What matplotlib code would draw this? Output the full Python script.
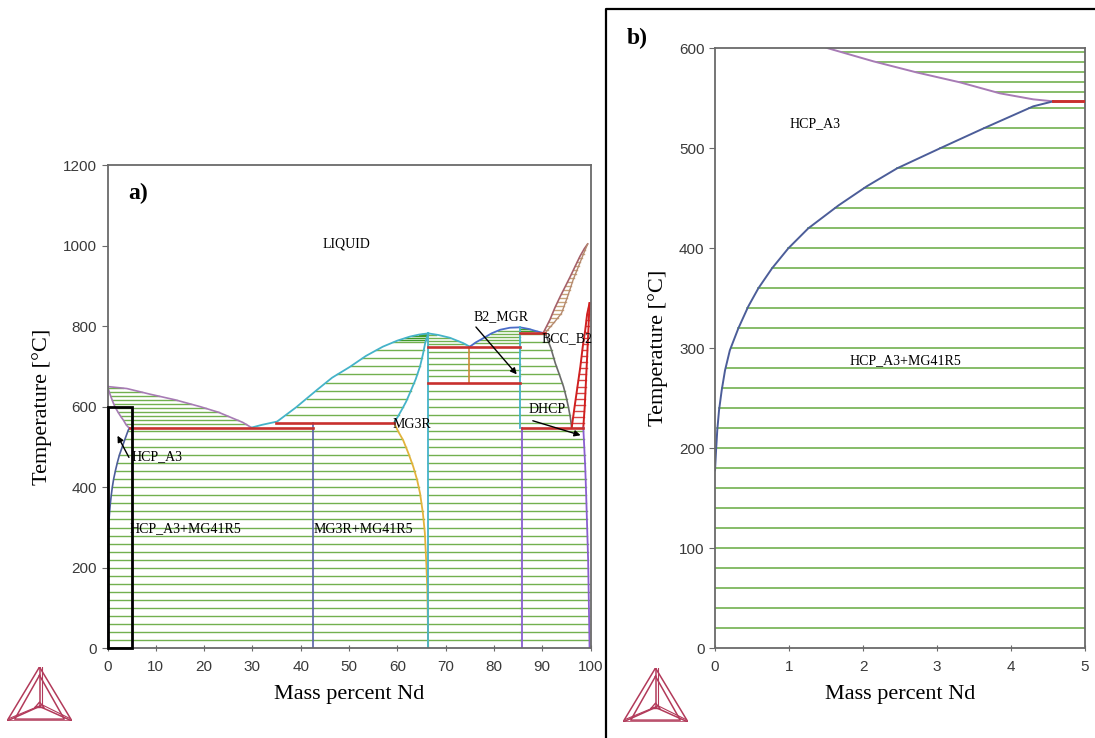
import numpy as np
import matplotlib.pyplot as plt
from matplotlib.lines import Line2D

# Mg-Nd phase boundaries, mass percent Nd vs temperature [C]
liq_mg_x = [0, 4, 8.8, 14, 19.2, 23, 26, 28, 29.8]
liq_mg_t = [650, 645, 631, 617, 600, 586, 571, 561, 548]
sol_hcp_x = [0, 0.6, 1.2, 1.53, 2.14, 2.72, 3.31, 3.85, 4.30, 4.57]
sol_hcp_t = [650, 628, 609, 600, 587, 576, 566, 555, 549, 547]
solv_hcp_x = [0, 0.014, 0.03, 0.054, 0.09, 0.135, 0.20, 0.315, 0.45, 0.585, 0.77,
              0.99, 1.26, 1.67, 2.05, 2.46, 3.04, 3.63, 4.30, 4.57]
solv_hcp_t = [178, 198, 218, 238, 258, 278, 298, 320, 342, 360, 380,
              400, 420, 443, 462, 480, 500, 520, 542, 547]
liq_mg3r_l_x = [29.8, 32, 35.1, 39, 43.4, 46.5, 50.2, 53.5, 57.0, 60.0, 62.6, 64.5, 66.4]
liq_mg3r_l_t = [548, 555, 563, 598, 642, 672, 699, 726, 749, 764, 774, 779, 782]
mg3r_up_x = [59.3, 60.1, 60.9, 61.8, 62.6, 63.8, 64.7, 65.3, 65.8, 66.4]
mg3r_up_t = [560, 575, 592, 612, 634, 668, 700, 730, 760, 782]
mg3r_lo_x = [59.3, 60.2, 61.2, 62.3, 63.3, 64.1, 64.7, 65.3, 65.7, 66.0, 66.2, 66.4]
mg3r_lo_t = [560, 538, 517, 484, 451, 418, 385, 335, 286, 210, 150, 0]
liq_mg3r_r_x = [66.4, 68.5, 70.9, 73.6, 75.0]
liq_mg3r_r_t = [782, 778, 771, 758, 749]
liq_b2_l_x = [75.0, 76.3, 77.8, 79.5, 81.3, 83.3, 85.4]
liq_b2_l_t = [749, 760, 770, 782, 791, 796, 797]
liq_b2_r_x = [85.4, 87.2, 88.9, 90.2]
liq_b2_r_t = [797, 793, 787, 783]
liq_nd_x = [90.2, 91.6, 92.6, 93.7, 94.8, 95.8, 96.8, 97.8, 98.7, 99.4]
liq_nd_t = [783, 816, 845, 873, 899, 923, 948, 973, 992, 1004]
sol_bcc_x = [90.6, 92.4, 94.0, 95.3, 96.4, 97.5, 98.4, 99.4]
sol_bcc_t = [783, 808, 832, 875, 915, 948, 975, 1004]
bcc_b2_x = [90.6, 91.8, 92.7, 93.6, 94.4, 95.0, 95.4, 95.8, 96.1]
bcc_b2_t = [783, 745, 708, 678, 650, 622, 600, 575, 548]
bcc_dh_l_x = [96.1, 96.7, 97.3, 97.9, 98.4, 98.9, 99.3, 99.8]
bcc_dh_l_t = [548, 600, 650, 700, 750, 790, 830, 857]
bcc_dh_r_x = [98.5, 98.8, 99.0, 99.2, 99.4, 99.55, 99.7, 99.8]
bcc_dh_r_t = [548, 600, 650, 700, 750, 790, 830, 857]
dhcp_x = [98.5, 98.7, 98.9, 99.1, 99.3, 99.5, 99.6, 99.8]
dhcp_t = [548, 500, 450, 380, 300, 220, 150, 0]

# line compounds
x_mg41 = 42.5
x_mg3 = 66.4
x_mg2 = 74.8
x_b2 = 85.5

# invariant reactions: temperature, from, to
invariants = [(547, 4.57, 42.5), (560, 34.8, 59.3), (747, 66.4, 85.5),
              (660, 66.4, 85.5), (783, 85.5, 90.6), (548, 85.8, 98.5)]

green = '#72b04f'
dark_green = '#3f9a2a'


def x_at(t, xs, ts):
    xs = np.asarray(xs, float)
    ts = np.asarray(ts, float)
    o = np.argsort(ts)
    return np.interp(t, ts[o], xs[o])


# two-phase fields: tie-line levels, left boundary, right boundary, colour
fields = [
    (np.arange(556, 650, 10), (sol_hcp_x, sol_hcp_t), (liq_mg_x, liq_mg_t), green),
    (np.arange(20, 545, 20), (solv_hcp_x, solv_hcp_t), (x_mg41, None), green),
    (np.arange(20, 545, 20), (x_mg41, None), (mg3r_lo_x, mg3r_lo_t), green),
    (np.arange(580, 781, 20), (liq_mg3r_l_x, liq_mg3r_l_t), (mg3r_up_x, mg3r_up_t), green),
    ([765, 770, 775, 779], (liq_mg3r_l_x, liq_mg3r_l_t), (mg3r_up_x, mg3r_up_t), dark_green),
    (np.arange(755, 781, 8), (x_mg3, None), (liq_mg3r_r_x, liq_mg3r_r_t), green),
    (np.arange(675, 740, 15), (x_mg3, None), (x_mg2, None), green),
    (np.arange(675, 740, 15), (x_mg2, None), (x_b2, None), green),
    (np.arange(20, 645, 20), (x_mg3, None), (x_b2, None), green),
    (np.arange(757, 796, 8), (liq_b2_l_x, liq_b2_l_t), (x_b2, None), green),
    ([787, 792], (x_b2, None), (liq_b2_r_x, liq_b2_r_t), dark_green),
    (np.arange(560, 781, 20), (x_b2, None), (bcc_b2_x, bcc_b2_t), green),
    (np.arange(20, 545, 20), (x_b2, None), (dhcp_x, dhcp_t), green),
    (np.arange(790, 1001, 10), (liq_nd_x, liq_nd_t), (sol_bcc_x, sol_bcc_t), '#c8a47a'),
    (np.arange(560, 851, 15), (bcc_dh_l_x, bcc_dh_l_t), (bcc_dh_r_x, bcc_dh_r_t), '#d84545'),
]


def draw_diagram(ax, lw):
    for levels, lb, rb, c in fields:
        for t in levels:
            xl = x_at(t, *lb) if lb[1] is not None else lb[0]
            xr = x_at(t, *rb) if rb[1] is not None else rb[0]
            ax.plot([xl, xr], [t, t], color=c, lw=lw, zorder=1)
    # Mg-rich side
    ax.plot(liq_mg_x, liq_mg_t, color='#a77bb5', lw=lw + 0.2, zorder=2)
    ax.plot(sol_hcp_x, sol_hcp_t, color='#a77bb5', lw=lw + 0.2, zorder=2)
    ax.plot(solv_hcp_x, solv_hcp_t, color='#4c5d99', lw=lw + 0.2, zorder=2)
    # MG3R dome
    ax.plot(liq_mg3r_l_x, liq_mg3r_l_t, color='#45b3c9', lw=lw + 0.3, zorder=2)
    ax.plot(mg3r_up_x, mg3r_up_t, color='#45b3c9', lw=lw + 0.3, zorder=2)
    ax.plot(mg3r_lo_x, mg3r_lo_t, color='#e2b33c', lw=lw + 0.3, zorder=2)
    ax.plot(liq_mg3r_r_x, liq_mg3r_r_t, color='#45b3c9', lw=lw + 0.3, zorder=2)
    ax.plot([x_mg3, x_mg3], [0, 782], color='#45b3c9', lw=lw + 0.3, zorder=2)
    ax.plot([x_mg41, x_mg41], [0, 560], color='#5a62a8', lw=lw + 0.2, zorder=2)
    ax.plot([x_mg2, x_mg2], [660, 747], color='#d08a3a', lw=lw + 0.2, zorder=2)
    # B2 and Nd-rich side
    ax.plot(liq_b2_l_x + liq_b2_r_x, liq_b2_l_t + liq_b2_r_t, color='#4a6cc8', lw=lw + 0.3, zorder=2)
    ax.plot([x_b2, x_b2], [548, 797], color='#45b3c9', lw=lw + 0.3, zorder=2)
    ax.plot([x_b2 + 0.3, x_b2 + 0.3], [0, 548], color='#8a5fd0', lw=lw + 0.3, zorder=2)
    ax.plot(liq_nd_x, liq_nd_t, color='#a5606a', lw=lw + 0.2, zorder=2)
    ax.plot(sol_bcc_x, sol_bcc_t, color='#b58a70', lw=lw, zorder=2)
    ax.plot(bcc_b2_x, bcc_b2_t, color='#6b6b6b', lw=lw + 0.2, zorder=2)
    ax.plot(bcc_dh_l_x, bcc_dh_l_t, color='#d02020', lw=lw + 0.4, zorder=2)
    ax.plot(bcc_dh_r_x, bcc_dh_r_t, color='#d02020', lw=lw + 0.4, zorder=2)
    ax.plot(dhcp_x, dhcp_t, color='#8a5fd0', lw=lw + 0.3, zorder=2)
    for t, x0, x1 in invariants:
        ax.plot([x0, x1], [t, t], color='#c8302e', lw=lw + 0.9, zorder=3)


def style_axes(ax):
    for s in ax.spines.values():
        s.set_color('#6a6a6a')
        s.set_linewidth(1.3)
    ax.tick_params(axis='y', direction='out', length=4, color='#6a6a6a',
                   labelsize=11, labelcolor='#3a3a3a')
    ax.tick_params(axis='x', direction='inout', length=5, color='#6a6a6a',
                   labelsize=11, labelcolor='#3a3a3a', pad=6)
    for lab in ax.get_xticklabels() + ax.get_yticklabels():
        lab.set_family('Liberation Sans')


def draw_logo(fig, x0, y0, w, h):
    lax = fig.add_axes([x0 / 1095, 1 - (y0 + h) / 738, w / 1095, h / 738])
    lax.set_xlim(0, 1)
    lax.set_ylim(0, 1)
    lax.axis('off')
    c = '#b23a5a'
    top, bl, br, ctr = (0.5, 1.0), (0.0, 0.0), (1.0, 0.0), (0.5, 0.27)
    for k in (0.0, 0.07):
        tt = (0.5, 1.0 - 2.2 * k)
        l = (k * 1.7, k * 0.5)
        r = (1 - k * 1.7, k * 0.5)
        lax.plot([tt[0], l[0], r[0], tt[0]], [tt[1], l[1], r[1], tt[1]], color=c, lw=1.1)
    for v in (top, bl, br):
        lax.plot([ctr[0], v[0]], [ctr[1], v[1]], color=c, lw=1.1)
        lax.plot([ctr[0] + 0.04, v[0] + 0.04 * (1 if v != br else -1)],
                 [ctr[1] + 0.03, v[1] + 0.05], color=c, lw=0.8)
    lax.plot([0.43, 0.57, 0.5, 0.43], [0.25, 0.25, 0.35, 0.25], color=c, lw=1.0)


plt.rcParams['font.family'] = ['Liberation Serif', 'DejaVu Serif']

fig = plt.figure(figsize=(10.95, 7.38), dpi=100)

# panel a: full diagram
ax1 = fig.add_axes([0.0982, 0.1215, 0.4411, 0.6549])
draw_diagram(ax1, 1.0)
ax1.set_xlim(0, 100)
ax1.set_ylim(0, 1200)
ax1.set_xticks(range(0, 101, 10))
ax1.set_yticks(range(0, 1201, 200))
style_axes(ax1)
ax1.set_xlabel('Mass percent Nd', fontsize=16, labelpad=8)
ax1.set_ylabel('Temperature [\u00b0C]', fontsize=16, labelpad=8)
ax1.add_patch(plt.Rectangle((0, 0), 5, 600, fill=False, ec='black', lw=2, zorder=5, clip_on=False))

ax1.text(4.3, 1130, 'a)', fontsize=17, fontweight='bold', va='center')
ax1.text(49.5, 1004, 'LIQUID', fontsize=10, ha='center', va='center')
ax1.text(4.9, 476, 'HCP_A3', fontsize=10, va='center')
ax1.text(4.6, 298, 'HCP_A3+MG41R5', fontsize=10, va='center')
ax1.text(42.6, 296, 'MG3R+MG41R5', fontsize=10, va='center')
ax1.text(59.1, 555, 'MG3R', fontsize=10, va='center')
ax1.text(75.7, 824, 'B2_MGR', fontsize=10, va='center')
ax1.text(89.9, 770, 'BCC_B2', fontsize=10, va='center')
ax1.text(87.1, 592, 'DHCP', fontsize=10, va='center')
arrow = dict(arrowstyle='-|>', color='black', lw=1.0, mutation_scale=9)
ax1.annotate('', xy=(1.8, 534), xytext=(4.7, 468), arrowprops=arrow, zorder=6)
ax1.annotate('', xy=(85.1, 675), xytext=(75.9, 803), arrowprops=arrow, zorder=6)
ax1.annotate('', xy=(98.5, 527), xytext=(87.5, 567), arrowprops=arrow, zorder=6)

# panel b: Mg-rich corner
ax2 = fig.add_axes([0.653, 0.1215, 0.3379, 0.813])
draw_diagram(ax2, 1.2)
ax2.set_xlim(0, 5)
ax2.set_ylim(0, 600)
ax2.set_xticks(range(0, 6))
ax2.set_yticks(range(0, 601, 100))
style_axes(ax2)
ax2.set_xlabel('Mass percent Nd', fontsize=16, labelpad=8)
ax2.set_ylabel('Temperature [\u00b0C]', fontsize=16, labelpad=8)
ax2.text(1.01, 525, 'HCP_A3', fontsize=10, va='center')
ax2.text(1.82, 288, 'HCP_A3+MG41R5', fontsize=10, va='center')
fig.text(627 / 1095, 1 - 38 / 738, 'b)', fontsize=17, fontweight='bold', va='center')

# frame around panel b
fig.add_artist(Line2D([606 / 1095, 606 / 1095, 1.0], [0.0, 1 - 9 / 738, 1 - 9 / 738],
                      transform=fig.transFigure, color='black', lw=1.6))

draw_logo(fig, 7, 667, 65, 54)
draw_logo(fig, 623, 668, 65, 54)

fig.savefig('out.png', dpi=100)
